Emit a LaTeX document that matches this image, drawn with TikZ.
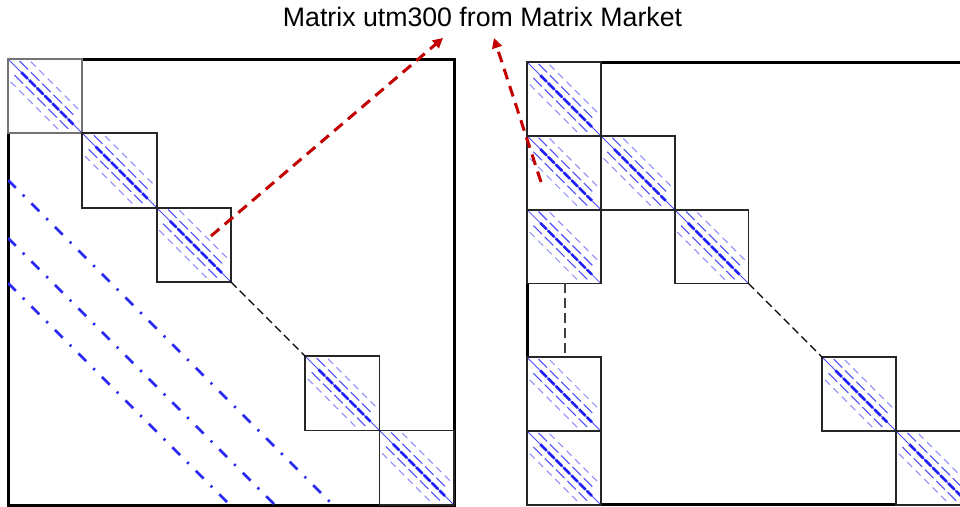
\documentclass[tikz,border=0pt]{standalone}
\usepackage{fontspec}
\setmainfont{Liberation Sans}
\usetikzlibrary{calc,arrows.meta}
\definecolor{spblue}{RGB}{30,30,245}
\definecolor{lnblue}{RGB}{40,40,240}
\definecolor{arrred}{RGB}{195,0,0}
\newcommand\dgu[4]{%
  \coordinate (pa) at ($(pNW)!#1!(pNE)$);
  \coordinate (pb) at ($(pSE)!#1!(pNE)$);
  \draw[#4] ($(pa)!#2!(pb)$) -- ($(pa)!#3!(pb)$);}
\newcommand\dgd[4]{%
  \coordinate (pa) at ($(pNW)!#1!(pSW)$);
  \coordinate (pb) at ($(pSE)!#1!(pSW)$);
  \draw[#4] ($(pa)!#2!(pb)$) -- ($(pa)!#3!(pb)$);}
\newcommand\blkpattern{%
  \coordinate (pNW) at (path picture bounding box.north west);
  \coordinate (pNE) at (path picture bounding box.north east);
  \coordinate (pSE) at (path picture bounding box.south east);
  \coordinate (pSW) at (path picture bounding box.south west);
  \dgu{0.27}{0.05}{0.95}{sideB}
  \dgd{0.27}{0.05}{0.95}{sideB}
  \dgu{0.13}{0.03}{0.9}{sideA}
  \dgd{0.13}{0.1}{0.97}{sideA}
  \dgu{0}{0}{1}{mainthin}
  \dgu{0}{0.18}{0.88}{mainthick}}
\tikzset{
  mainthin/.style={blue!70, line width=0.8pt},
  mainthick/.style={spblue, line width=2.6pt, dash pattern=on 9pt off 2pt},
  sideA/.style={blue!70, line width=1.1pt, dash pattern=on 12pt off 4pt},
  sideB/.style={blue!45, line width=1pt, dash pattern=on 7pt off 5pt},
  blockbox/.style={draw=black!85, line width=1.8pt, fill=white, minimum size=#1,
    inner sep=0pt, outer sep=0pt, anchor=north west, path picture={\blkpattern}},
  framebox/.style={draw=black, line width=3pt, inner sep=0pt, outer sep=0pt,
    anchor=north west},
  diagdash/.style={black, line width=1.4pt, dash pattern=on 8pt off 4.5pt},
  vertdash/.style={black!75, line width=1.7pt, dash pattern=on 10pt off 5pt},
  dashdotblue/.style={lnblue, line width=2.8pt, dash pattern=on 11pt off 10pt on 2.2pt off 10pt},
  redarrow/.style={arrred, line width=3pt, dash pattern=on 11pt off 7pt,
    -{Triangle[length=10pt,width=10pt]}},
}
\begin{document}
\begin{tikzpicture}[x=1pt,y=-1pt]
\useasboundingbox (0,0) rectangle (960,506);
\clip (0,0) rectangle (960,506);
\fill[white] (0,0) rectangle (960,506);

% title
\node[font=\fontsize{26.7}{32}\selectfont, anchor=base, inner sep=0pt] (title) at (482.5,26.7) {Matrix utm300 from Matrix Market};

% ---------- left matrix ----------
\node[framebox, minimum width=446pt, minimum height=446pt] (LF) at (8,59) {};
\begin{scope}
  \clip (8,59) rectangle (454,505);
  \draw[dashdotblue] (8,180) -- (340,512);
  \draw[dashdotblue] (8,238) -- (282,512);
  \draw[dashdotblue] (8,283) -- (237,512);
\end{scope}
\node[blockbox=74.3pt, draw=black!55] (L1) at (8,59) {};
\node[blockbox=74.3pt] (L2) at (82.3,133.3) {};
\node[blockbox=74.3pt] (L3) at (156.6,207.6) {};
\node[blockbox=74.3pt] (L4) at (305.2,356.2) {};
\node[blockbox=74.3pt] (L5) at (379.5,430.5) {};
\draw[diagdash] (L3.south east) -- (L4.north west);

% ---------- right matrix ----------
\node[framebox, minimum width=442.8pt, minimum height=442.8pt] (RF) at (527,62) {};
\node[blockbox=73.8pt] (RA) at (527,62) {};
\node[blockbox=73.8pt] (RB) at (527,135.8) {};
\node[blockbox=73.8pt] (RC) at (600.8,135.8) {};
\node[blockbox=73.8pt] (RD) at (527,209.6) {};
\node[blockbox=73.8pt] (RE) at (674.6,209.6) {};
\node[blockbox=73.8pt] (RF4) at (527,357.2) {};
\node[blockbox=73.8pt] (RG) at (527,431) {};
\node[blockbox=73.8pt] (RH) at (822.2,357.2) {};
\node[blockbox=73.8pt] (RI) at (896,431) {};
\draw[diagdash] (RE.south east) -- (RH.north west);
\draw[vertdash] ($(RD.south west)+(38,0)$) coordinate (vd1) -- ($(RF4.north west)+(38,0)$) coordinate (vd2);

% ---------- red arrows ----------
\coordinate (a1s) at (211,236);
\coordinate (a1e) at (443,38);
\coordinate (a2s) at (541,182);
\coordinate (a2e) at (494,38);
\draw[redarrow] (a1s) -- (a1e);
\draw[redarrow] (a2s) -- (a2e);
\end{tikzpicture}
\end{document}
